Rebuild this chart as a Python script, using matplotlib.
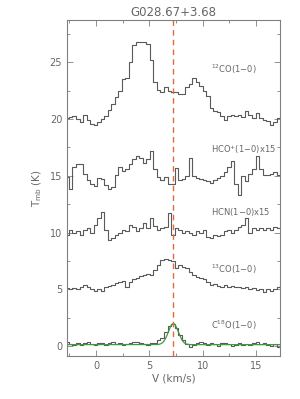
import numpy as np
import matplotlib
matplotlib.use("Agg")
import matplotlib.pyplot as plt
from matplotlib.ticker import MultipleLocator

# channel grid (km/s)
v_start = -2.70
dv = 0.33
n_chan = 62

co12 = [20.1, 20.2, 20.3, 20.0, 19.7, 20.4, 19.9, 19.6, 19.5, 19.7,
        20.0, 20.3, 20.8, 21.3, 21.9, 22.5, 23.5, 23.6, 25.0, 26.5,
        26.8, 26.8, 26.8, 26.6, 25.2, 23.3, 22.6, 22.4, 22.8, 22.5,
        22.4, 22.4, 22.2, 22.2, 22.8, 23.1, 23.6, 23.3, 22.9, 22.5,
        22.0, 21.0, 20.7, 20.6, 20.3, 19.9, 20.3, 20.4, 20.3, 20.4,
        20.2, 20.7, 20.4, 20.1, 20.5, 20.1, 19.9, 19.8, 19.5, 19.7,
        20.1, 20.1]

hco = [14.9, 13.8, 15.8, 16.0, 16.0, 15.2, 14.6, 14.3, 14.1, 14.8,
       14.7, 14.2, 13.8, 14.0, 15.1, 15.8, 15.4, 15.6, 16.0, 16.5,
       16.7, 16.6, 16.1, 16.5, 17.2, 15.6, 14.9, 14.6, 14.9, 14.3,
       14.3, 15.7, 14.6, 14.7, 15.0, 16.6, 15.0, 14.8, 14.7, 14.6,
       14.5, 14.4, 14.6, 14.8, 15.0, 15.3, 15.8, 16.3, 14.3, 13.3,
       15.0, 14.5, 15.2, 15.6, 16.7, 15.6, 15.1, 15.1, 15.2, 15.3,
       15.1, 15.1]

hcn = [9.8, 10.2, 9.95, 10.1, 9.8, 10.25, 10.4, 9.95, 10.7, 11.3,
       11.85, 10.2, 9.36, 9.5, 9.8, 9.95, 10.24, 10.1, 10.7, 10.53,
       10.1, 10.38, 10.83, 10.4, 11.27, 10.6, 10.24, 10.4, 10.5, 11.7,
       9.8, 10.4, 10.24, 9.95, 10.1, 9.94, 9.8, 10.1, 9.94, 10.24,
       9.6, 9.5, 9.8, 9.65, 9.8, 10.1, 10.24, 9.95, 10.24, 10.53,
       10.68, 11.27, 9.94, 10.38, 10.24, 10.38, 10.24, 10.38, 10.24, 10.53,
       10.38, 10.5]

co13 = [5.09, 5.0, 5.15, 5.0, 5.24, 5.38, 5.2, 5.0, 4.88, 5.0,
        4.88, 5.24, 5.3, 5.4, 5.55, 5.6, 5.76, 5.24, 5.6, 5.88,
        6.0, 6.2, 6.3, 6.36, 6.27, 6.7, 7.15, 7.6, 7.65, 7.6,
        7.5, 6.85, 7.15, 7.0, 6.85, 6.56, 6.27, 6.12, 6.0, 5.88,
        5.68, 5.38, 5.5, 5.3, 5.24, 5.38, 5.24, 5.3, 5.18, 5.24,
        5.09, 5.18, 5.0, 5.09, 4.94, 5.0, 4.8, 5.0, 4.88, 5.0,
        5.24, 5.38]

c18o = [0.32, 0.15, 0.09, 0.24, 0.09, 0.29, 0.38, 0.15, 0.09, 0.24,
        0.29, 0.09, 0.24, 0.38, 0.18, 0.24, 0.09, 0.15, 0.24, 0.32,
        0.38, 0.24, 0.15, 0.09, 0.24, 0.29, 0.53, 0.68, 1.2, 1.8,
        1.94, 1.6, 1.0, 0.5, 0.15, -0.06, 0.09, 0.24, 0.38, 0.24,
        0.09, 0.24, 0.15, 0.0, 0.24, 0.29, 0.15, 0.0, 0.09, 0.24,
        0.09, 0.18, 0.09, 0.24, 0.38, 0.18, 0.24, 0.09, 0.0, 0.15,
        -0.06, -0.12]

# Gaussian fit to C18O
fit_base = 0.12
fit_amp = 1.85
fit_v0 = 7.25
fit_fwhm = 1.1

v_sys = 7.22

labels = [r'$^{12}$CO(1$-$0)', r'HCO$^{+}$(1$-$0)x15', r'HCN(1$-$0)x15',
          r'$^{13}$CO(1$-$0)', r'C$^{18}$O(1$-$0)']
label_y = [24.4, 17.3, 11.85, 6.77, 1.8]

title = 'G028.67+3.68'

v = v_start + dv * np.arange(n_chan)

grey = '#5a5a5a'
axcol = '#808080'
txtcol = '#666666'

fig = plt.figure(figsize=(3.0, 3.99), dpi=100)
ax = fig.add_axes([0.2233, 0.1078, 0.71, 0.8421])

for spec in [co12, hco, hcn, co13, c18o]:
    ax.step(v, spec, where='mid', color=grey, lw=0.8)

vf = np.linspace(-3, 18, 600)
sig = fit_fwhm / 2.3548
ax.plot(vf, fit_base + fit_amp * np.exp(-0.5 * ((vf - fit_v0) / sig) ** 2),
        color='#3c9a3c', lw=0.9)

ax.axvline(v_sys, color='#e06a3a', lw=1.0, ls=(0, (4, 3)))

for lab, ly in zip(labels, label_y):
    ax.text(10.8, ly, lab, fontsize=6, color=txtcol, ha='left', va='center')

ax.set_xlim(-2.72, 17.25)
ax.set_ylim(-0.88, 28.73)
ax.xaxis.set_major_locator(MultipleLocator(5))
ax.xaxis.set_minor_locator(MultipleLocator(2.5))
ax.yaxis.set_major_locator(MultipleLocator(5))
ax.yaxis.set_minor_locator(MultipleLocator(2.5))
ax.tick_params(which='both', direction='in', top=True, right=True,
               colors=axcol, labelcolor=txtcol, labelsize=7)
ax.tick_params(which='major', length=4, width=0.6)
ax.tick_params(which='minor', length=2.5, width=0.6)
for s in ax.spines.values():
    s.set_color(axcol)
    s.set_linewidth(0.8)

ax.set_xlabel('V (km/s)', fontsize=7.5, color=txtcol, labelpad=2)
ax.set_ylabel(r'T$_{\rm mb}$ (K)', fontsize=7.5, color=txtcol, labelpad=4)
ax.set_title(title, fontsize=8.5, color=txtcol, pad=3)

fig.savefig('out.png', dpi=100)
